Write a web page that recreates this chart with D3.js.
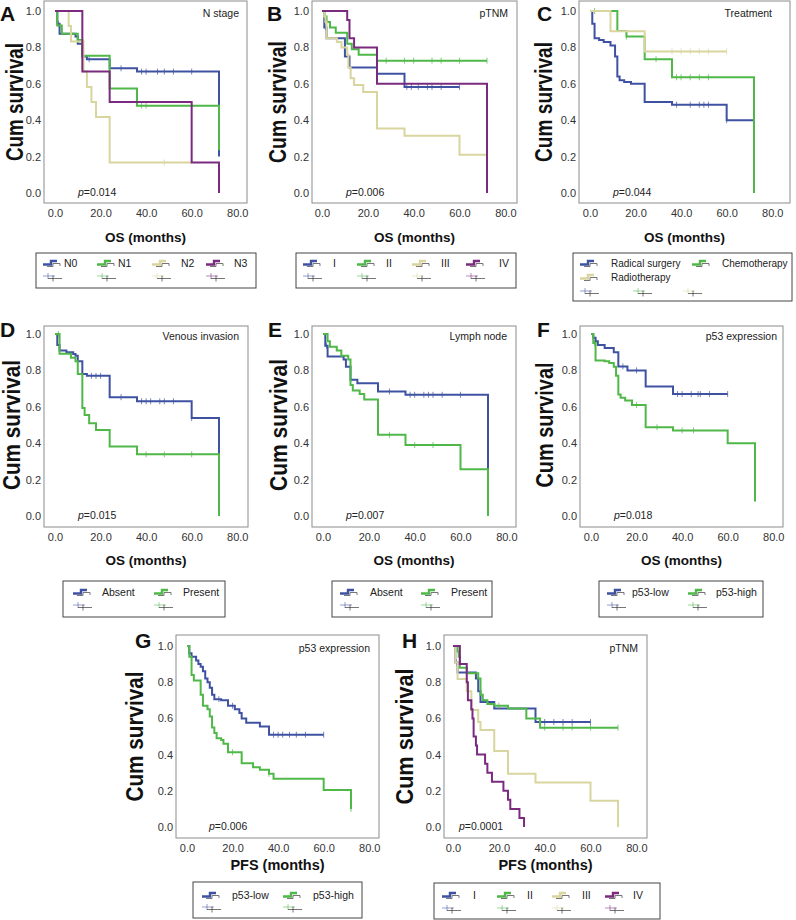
<!DOCTYPE html>
<html><head><meta charset="utf-8">
<script src="https://cdn.jsdelivr.net/npm/d3@7"></script>
<style>body{margin:0;background:#fff} svg{display:block} text{font-family:"Liberation Sans",Arial,Helvetica,sans-serif}</style>
</head><body><svg id="c" width="796" height="920"></svg>
<script>
// ---------- DATA ----------
const xTicks = [0, 20, 40, 60, 80];
const yTicks = [0, 0.2, 0.4, 0.6, 0.8, 1.0];
const pValues = ["0.014", "0.006", "0.044", "0.015", "0.007", "0.018", "0.006", "0.0001"];
const panelTitles = ["N stage", "pTNM", "Treatment", "Venous invasion", "Lymph node", "p53 expression", "p53 expression", "pTNM"];

// A: N stage (OS)
const A_N0 = [[0,1],[1,0.93],[2,0.875],[9,0.86],[10,0.82],[12,0.75],[14,0.735],[24,0.685],[36,0.667],[72,0.2]];
const A_N0_cens = [1.5,15,29,38,40,45,48,52,60];
const A_N1 = [[0,1],[1,0.92],[3,0.875],[10,0.84],[12,0.754],[24,0.574],[36,0.48],[72,0.235]];
const A_N1_cens = [38,40];
const A_N2 = [[0,1],[6,0.917],[7,0.833],[12.5,0.667],[14,0.583],[16,0.5],[18,0.417],[24,0.167]];
const A_N2_cens = [48];
const A_N3 = [[0,1],[12,0.667],[24,0.5],[60,0.167],[72,0]];
// B: pTNM (OS)
const B_I = [[0,1],[1,0.91],[2,0.85],[10,0.75],[12,0.69],[24,0.655],[36,0.583]];
const B_I_cens = [1.5,37,39,42,46,48,52,60];
const B_II = [[0,1],[1,0.97],[2,0.94],[3.5,0.91],[6,0.88],[11,0.82],[13,0.79],[16,0.76],[24,0.727]];
const B_II_cens = [28,36,40,48,52,60,72];
const B_III = [[0,1],[1,0.97],[1.5,0.94],[2,0.85],[6.5,0.83],[8.5,0.8],[11,0.76],[11.5,0.69],[12.5,0.63],[14,0.593],[18,0.555],[24,0.355],[36,0.315],[60,0.21]];
const B_III_cens = [72];
const B_IV = [[0,1],[11,0.95],[12,0.85],[14,0.8],[24,0.6],[72,0]];
// C: Treatment (OS)
const C_RS = [[0,1],[1,0.93],[2,0.85],[4,0.84],[6,0.83],[9,0.81],[11,0.75],[12,0.64],[13,0.62],[15,0.61],[18,0.6],[24,0.5],[36,0.485],[60,0.4]];
const C_RS_cens = [38,44,48,50,52,60];
const C_CH = [[0,1],[12,0.89],[16,0.86],[24,0.735],[36,0.636],[72,0]];
const C_CH_cens = [2,16,29,38,40,44,48,52];
const C_RT = [[0,1],[9,0.889],[24,0.778]];
const C_RT_cens = [36,40,44,48,52,60];
// D: Venous invasion (OS)
const D_AB = [[0,1],[1,0.94],[2,0.91],[5,0.9],[8,0.89],[9,0.88],[10,0.85],[12,0.78],[14,0.77],[24,0.653],[36,0.63],[60,0.538],[72,0.34]];
const D_AB_cens = [16,18,20,29,38,40,42,46,48,52,60];
const D_PR = [[0,1],[2,0.892],[7,0.87],[9,0.85],[10,0.78],[12,0.593],[13,0.555],[15,0.51],[18,0.473],[24,0.382],[36,0.339],[72,0]];
const D_PR_cens = [1.5,40,48,60];
// E: Lymph node (OS)
const E_AB = [[0,1],[1,0.936],[2,0.877],[9,0.86],[10,0.82],[12,0.749],[15,0.73],[24,0.684],[36,0.666],[72,0.22]];
const E_AB_cens = [1.5,29,38,40,44,46,48,52,60];
const E_PR = [[0,1],[2,0.96],[3,0.93],[6,0.91],[8,0.88],[11,0.86],[12,0.72],[13,0.69],[16,0.67],[18,0.64],[24,0.446],[36,0.39],[60,0.257],[72,0]];
const E_PR_cens = [29,40,48];
// F: p53 expression (OS)
const F_LO = [[0,1],[1,0.98],[2,0.96],[3,0.94],[6,0.923],[10,0.9],[12,0.822],[16,0.8],[24,0.712],[36,0.67]];
const F_LO_cens = [14,20,38,40,44,47,48,52,60];
const F_HI = [[0,1],[1,0.95],[2,0.855],[6,0.85],[8,0.84],[10,0.82],[11,0.77],[12,0.667],[13,0.65],[15,0.635],[18,0.61],[24,0.488],[36,0.47],[60,0.4],[72,0.08]];
const F_HI_cens = [1.5,20,29,40,45];
// G: p53 expression (PFS)
const G_LO = [[0,1],[1,0.96],[2,0.94],[4,0.92],[5,0.9],[6,0.885],[7,0.86],[8,0.82],[9,0.8],[10,0.77],[11,0.73],[12,0.706],[15,0.7],[18,0.67],[21,0.65],[23,0.63],[24,0.6],[26,0.576],[32,0.555],[36,0.51]];
const G_LO_cens = [2,14,20,38,40,42,45,48,52,60];
const G_HI = [[0,1],[1,0.94],[2,0.84],[3,0.81],[6,0.73],[7,0.67],[9,0.65],[10,0.61],[11,0.55],[12,0.52],[13,0.49],[15,0.48],[16,0.46],[18,0.413],[24,0.352],[29,0.33],[32,0.316],[36,0.294],[38,0.266],[60,0.205],[72,0.1]];
const G_HI_cens = [20,36,72];
// H: pTNM (PFS)
const H_I = [[0,1],[1,0.91],[2,0.853],[10,0.82],[11,0.75],[12,0.69],[18,0.655],[36,0.58]];
const H_I_cens = [1.5,38,40,44,48,52,60];
const H_II = [[0,1],[2,0.97],[2.5,0.94],[3,0.88],[6,0.85],[11,0.82],[12,0.73],[13,0.7],[15,0.68],[18,0.67],[24,0.655],[32,0.6],[38,0.549]];
const H_II_cens = [20,40,48,52,60,72];
const H_III = [[0,1],[1,0.91],[2,0.817],[6,0.75],[8,0.646],[11,0.58],[12,0.536],[18,0.42],[24,0.294],[36,0.246],[60,0.145],[72,0]];
const H_III_cens = [];
const H_IV = [[0,1],[3,0.9],[6,0.8],[6.5,0.7],[8,0.65],[8.5,0.6],[9,0.5],[10,0.45],[10.5,0.4],[14,0.35],[15,0.3],[17,0.25],[22,0.2],[24,0.15],[25,0.1],[29,0.05],[31,0]];

// ---------- STYLE ----------
const COL = {blue:"#3f52a2", green:"#4fb848", yellow:"#d9d59e", purple:"#7b2b7f"};

const panels = [
 {L:"A", box:[44,247,1,203], xr:[55,219], yr:[11,193], lx:0, ly:21, ylx:15, yll:118, tx:239, px:78, xl:"OS (months)", xly:242, xls:13.5,
  series:[{c:"blue",p:A_N0,e:72,cs:A_N0_cens},{c:"green",p:A_N1,e:72,cs:A_N1_cens},{c:"yellow",p:A_N2,e:60,cs:A_N2_cens},{c:"purple",p:A_N3,e:72,cs:[]}],
  leg:{b:[36,253,220,35], fs:10.5, rows:[263,277], items:[[43,64,"blue","N0"],[97,118,"green","N1"],[152,181,"yellow","N2"],[206,234,"purple","N3"]], cens:[[43,"blue"],[97,"green"],[152,"yellow"],[206,"purple"]], crow:277}},
 {L:"B", box:[312,517,1,203], xr:[322,487], yr:[11,193], lx:267, ly:21, ylx:278, yll:122, tx:508, px:346, xl:"OS (months)", xly:242, xls:13.5,
  series:[{c:"blue",p:B_I,e:60,cs:B_I_cens},{c:"green",p:B_II,e:72,cs:B_II_cens},{c:"yellow",p:B_III,e:72,cs:B_III_cens},{c:"purple",p:B_IV,e:72,cs:[]}],
  leg:{b:[296,253,220,35], fs:10.5, rows:[263,277], items:[[303,333,"blue","I"],[357,386,"green","II"],[412,441,"yellow","III"],[466,499,"purple","IV"]], cens:[[303,"blue"],[357,"green"],[412,"yellow"],[466,"purple"]], crow:277}},
 {L:"C", box:[579,790,1,203], xr:[590,754], yr:[11,193], lx:537, ly:21, ylx:544, yll:120, tx:772, px:613, xl:"OS (months)", xly:242, xls:13.5,
  series:[{c:"blue",p:C_RS,e:72,cs:C_RS_cens},{c:"green",p:C_CH,e:72,cs:C_CH_cens},{c:"yellow",p:C_RT,e:60,cs:C_RT_cens}],
  leg:{b:[573,253,219,48], fs:10, rows:[263,277], items:[[580,611,"blue","Radical surgery"],[692,722,"green","Chemotherapy"],[580,611,"yellow","Radiotherapy",1]], cens:[[580,"blue"],[633,"green"],[683,"yellow"]], crow:292}},
 {L:"D", box:[44,248,326,527], xr:[55,219], yr:[334,516], lx:0, ly:337, ylx:12, yll:130, tx:239, px:78, xl:"OS (months)", xly:565, xls:13.5,
  series:[{c:"blue",p:D_AB,e:72,cs:D_AB_cens},{c:"green",p:D_PR,e:72,cs:D_PR_cens}],
  leg:{b:[63,581,162,36], fs:10.5, rows:[592,606], items:[[73,102,"blue","Absent"],[154,183,"green","Present"]], cens:[[73,"blue"],[154,"green"]], crow:606}},
 {L:"E", box:[312,516,326,527], xr:[323,488], yr:[334,516], lx:268, ly:337, ylx:279, yll:132, tx:507, px:346, xl:"OS (months)", xly:565, xls:13.5,
  series:[{c:"blue",p:E_AB,e:72,cs:E_AB_cens},{c:"green",p:E_PR,e:72,cs:E_PR_cens}],
  leg:{b:[332,581,160,36], fs:10.5, rows:[592,606], items:[[340,370,"blue","Absent"],[421,451,"green","Present"]], cens:[[340,"blue"],[421,"green"]], crow:606}},
 {L:"F", box:[580,783,326,527], xr:[591,755], yr:[334,516], lx:537, ly:337, ylx:545, yll:125, tx:777, px:614, xl:"OS (months)", xly:565, xls:13.5,
  series:[{c:"blue",p:F_LO,e:60,cs:F_LO_cens},{c:"green",p:F_HI,e:72,cs:F_HI_cens}],
  leg:{b:[599,581,164,36], fs:10.5, rows:[592,606], items:[[607,632,"blue","p53-low"],[688,716,"green","p53-high"]], cens:[[607,"blue"],[688,"green"]], crow:606}},
 {L:"G", box:[176,379,635,838], xr:[187,351], yr:[646,827], lx:135, ly:648, ylx:135, yll:130, tx:370, px:209, xl:"PFS (months)", xly:870, xls:14.5,
  series:[{c:"blue",p:G_LO,e:60,cs:G_LO_cens},{c:"green",p:G_HI,e:72,cs:G_HI_cens}],
  leg:{b:[193,882,169,36], fs:10.5, rows:[895,908], items:[[202,232,"blue","p53-low"],[283,313,"green","p53-high"]], cens:[[202,"blue"],[283,"green"]], crow:908}},
 {L:"H", box:[444,647,635,838], xr:[453,618], yr:[646,827], lx:402, ly:648, ylx:405, yll:136, tx:638, px:459, xl:"PFS (months)", xly:870, xls:14.5,
  series:[{c:"blue",p:H_I,e:60,cs:H_I_cens},{c:"green",p:H_II,e:72,cs:H_II_cens},{c:"yellow",p:H_III,e:72,cs:H_III_cens},{c:"purple",p:H_IV,e:31,cs:[]}],
  leg:{b:[434,883,226,36], fs:10.5, rows:[895,909], items:[[442,473,"blue","I"],[497,527,"green","II"],[552,582,"yellow","III"],[605,633,"purple","IV"]], cens:[[442,"blue"],[497,"green"],[552,"yellow"],[605,"purple"]], crow:909}}
];

const svg = d3.select("#c");
const FONT = '"Liberation Sans",Arial,Helvetica,sans-serif';

function survAt(pts, t){ let s = 1; for (const p of pts) if (p[0] <= t) s = p[1]; return s; }

function stepIcon(g, x, y, color){
  g.append("path").attr("d", `M${x+4},${y+3.5}H${x+10}V${y+0.5}H${x+17}V${y+3}`).attr("fill","none").attr("stroke","#666").attr("stroke-width",0.9);
  g.append("path").attr("d", `M${x},${y+1.5}H${x+8}V${y-2}H${x+14}`).attr("fill","none").attr("stroke",COL[color]).attr("stroke-width",2.4);
}
function censIcon(g, x, y, color){
  g.append("path").attr("d", `M${x},${y-1}H${x+12}M${x+5},${y-4}V${y+2}`).attr("fill","none").attr("stroke",COL[color]).attr("stroke-width",1).attr("opacity",0.55);
  g.append("path").attr("d", `M${x+5},${y+1.5}H${x+19}M${x+10},${y-1.5}V${y+4.5}`).attr("fill","none").attr("stroke","#333").attr("stroke-width",0.9).attr("opacity",0.75);
}

panels.forEach((P, i) => {
  const [bx0, bx1, by0, by1] = P.box;
  const x = d3.scaleLinear().domain([0, 72]).range(P.xr);
  const y = d3.scaleLinear().domain([0, 1]).range([P.yr[1], P.yr[0]]);
  const g = svg.append("g");

  g.append("rect").attr("x", bx0).attr("y", by0).attr("width", bx1-bx0).attr("height", by1-by0)
    .attr("fill","#fff").attr("stroke","#8c8c8c").attr("stroke-width",1);

  const ya = d3.axisLeft(y).tickValues(yTicks).tickFormat(d3.format(".1f")).tickSize(0).tickPadding(3);
  g.append("g").attr("transform", `translate(${bx0},0)`).call(ya)
    .call(s => s.select(".domain").remove())
    .selectAll("text").attr("font-size", 11).attr("fill","#333").attr("font-family", FONT);
  const xa = d3.axisBottom(x).tickValues(xTicks).tickFormat(d3.format(".1f")).tickSize(0).tickPadding(6);
  g.append("g").attr("transform", `translate(0,${by1})`).call(xa)
    .call(s => s.select(".domain").remove())
    .selectAll("text").attr("font-size", 11).attr("fill","#333").attr("font-family", FONT);

  const line = d3.line().x(d => x(d[0])).y(d => y(d[1])).curve(d3.curveStepAfter);
  P.series.forEach(S => {
    const last = S.p[S.p.length-1];
    const pts = S.p.concat(last[0] < S.e ? [[S.e, last[1]]] : []);
    g.append("path").attr("d", line(pts)).attr("fill","none").attr("stroke", COL[S.c]).attr("stroke-width", 2);
    g.selectAll(null).data(S.cs).enter().append("line")
      .attr("x1", t => x(t)).attr("x2", t => x(t))
      .attr("y1", t => y(survAt(S.p, t)) - 3).attr("y2", t => y(survAt(S.p, t)) + 3)
      .attr("stroke", COL[S.c]).attr("stroke-width", 1).attr("opacity", 0.7);
  });

  g.append("text").attr("x", P.tx).attr("y", P.yr[0] + 6).attr("text-anchor","end")
    .attr("font-size", 10.5).attr("fill","#222").text(panelTitles[i]);
  const pt = g.append("text").attr("x", P.px).attr("y", P.yr[1] + 3).attr("font-size", 10.5).attr("fill","#222");
  pt.append("tspan").attr("font-style","italic").text("p");
  pt.append("tspan").text("=" + pValues[i]);

  g.append("text").attr("x", (bx0+bx1)/2).attr("y", P.xly).attr("text-anchor","middle")
    .attr("font-size", P.xls).attr("font-weight","bold").attr("fill","#111").text(P.xl);
  g.append("text").attr("transform", `translate(${P.ylx},${(P.yr[0]+P.yr[1])/2}) rotate(-90)`)
    .attr("text-anchor","middle").attr("dy","0.36em").attr("font-size", 23).attr("font-weight","bold")
    .attr("textLength", P.yll).attr("lengthAdjust","spacingAndGlyphs").attr("fill","#111").text("Cum survival");

  g.append("text").attr("x", P.lx).attr("y", P.ly).attr("font-size", 21).attr("font-weight","bold").attr("fill","#111").text(P.L);

  const lg = P.leg;
  g.append("rect").attr("x", lg.b[0]).attr("y", lg.b[1]).attr("width", lg.b[2]).attr("height", lg.b[3])
    .attr("fill","#fff").attr("stroke","#444").attr("stroke-width",1);
  lg.items.forEach(it => {
    const ry = it[4] ? lg.rows[1] : lg.rows[0];
    stepIcon(g, it[0], ry, it[2]);
    g.append("text").attr("x", it[1]).attr("y", ry + 4).attr("font-size", lg.fs).attr("fill","#222").text(it[3]);
  });
  lg.cens.forEach(c => censIcon(g, c[0], lg.crow, c[1]));
});
</script></body></html>
